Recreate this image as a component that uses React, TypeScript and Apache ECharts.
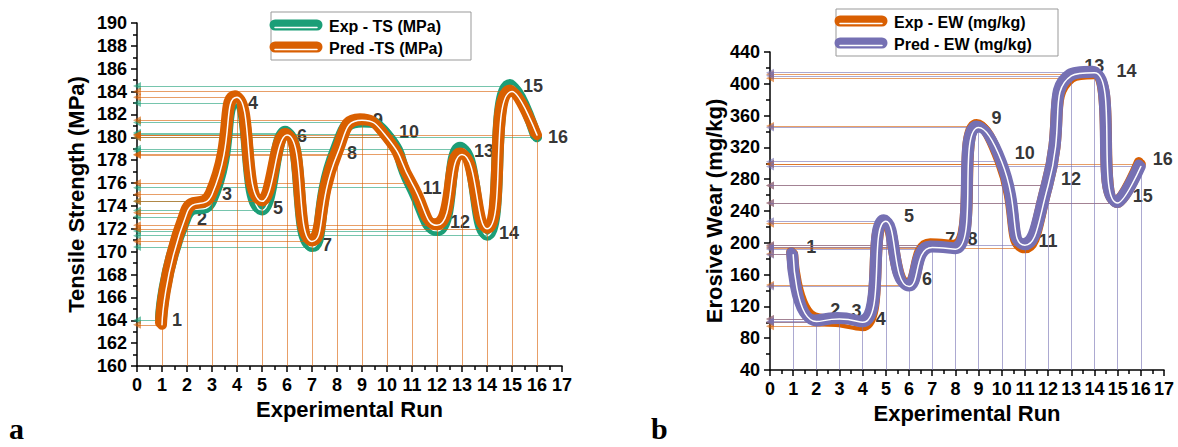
import React, { useEffect, useRef } from "react";
import * as echarts from "echarts";

// ---- data ----
const RUNS = [1, 2, 3, 4, 5, 6, 7, 8, 9, 10, 11, 12, 13, 14, 15, 16];
const EXP_TS = [164.0, 173.05, 174.4, 183.0, 173.6, 180.4, 170.4, 178.8, 181.3, 180.3, 175.6, 171.8, 179.0, 171.4, 184.5, 180.0];
const PRED_TS = [163.6, 173.4, 175.0, 183.5, 174.4, 180.2, 170.9, 178.45, 181.5, 180.0, 176.0, 172.3, 178.5, 172.0, 184.0, 180.2];
const EXP_EW = [186, 104, 100, 95, 224, 147, 197, 195, 347, 299, 193, 272, 407, 412, 250, 299];
const PRED_EW = [185, 101, 104, 100, 227, 145, 194, 192, 345, 302, 197, 272, 410, 414, 250, 296];
const RUN_LABELS = RUNS.map((r) => String(r));

const TS_AXIS = { min: 160, max: 190, step: 2 };
const EW_AXIS = { min: 40, max: 440, step: 40 };
const RUN_AXIS = { min: 0, max: 17, step: 1 };

const LEGEND_TS = ["Exp - TS (MPa)", "Pred -TS (MPa)"];
const LEGEND_EW = ["Exp - EW (mg/kg)", "Pred - EW (mg/kg)"];

// ---- styling ----
const TS_LABEL_OFFSETS = [[15, 0], [15, 2], [15, -7], [16, 0], [16, -3], [15, 3], [15, -2], [15, 2], [16, -2], [22, -2], [20, 0], [23, -9], [22, 2], [22, -3], [21, 0], [21, 0]];
const EW_LABEL_OFFSETS = [[18, -7], [19, -9], [17, -11], [18, -7], [23, -8], [18, -6], [18, -6], [17, -8], [18, -8], [23, -11], [23, -7], [23, -7], [23, -12], [32, -3], [25, -7], [22, -5]];

const GREEN = "#1b9e77";
const ORANGE = "#d95f02";
const PURPLE = "#7570b3";
const FONT = 'Arial, "Liberation Sans", Helvetica, sans-serif';
const SMOOTH = 0.6;

const pairs = (vals: number[]) => RUNS.map((r, i) => [r, vals[i]]);

function xAxis(gridIndex: number, nameGap: number) {
  return {
    type: "value",
    gridIndex,
    min: RUN_AXIS.min,
    max: RUN_AXIS.max,
    interval: RUN_AXIS.step,
    name: "Experimental Run",
    nameLocation: "middle",
    nameGap,
    nameTextStyle: { fontSize: 22, fontWeight: "bold", color: "#000", fontFamily: FONT },
    axisLine: { show: true, onZero: false, lineStyle: { color: "#000", width: 1.5 } },
    axisTick: { show: true, length: 6, lineStyle: { color: "#000", width: 1.5 } },
    minorTick: { show: true, splitNumber: 2, length: 4, lineStyle: { color: "#000", width: 1.5 } },
    axisLabel: { fontSize: 18, fontWeight: "bold", color: "#000", margin: 10, fontFamily: FONT },
    splitLine: { show: false },
  };
}

function yAxis(gridIndex: number, ax: { min: number; max: number; step: number }, name: string, nameGap: number) {
  return {
    type: "value",
    gridIndex,
    min: ax.min,
    max: ax.max,
    interval: ax.step,
    name,
    nameLocation: "middle",
    nameGap,
    nameTextStyle: { fontSize: 22, fontWeight: "bold", color: "#000", fontFamily: FONT },
    axisLine: { show: true, onZero: false, lineStyle: { color: "#000", width: 1.5 } },
    axisTick: { show: true, length: 6, lineStyle: { color: "#000", width: 1.5 } },
    minorTick: { show: true, splitNumber: 2, length: 4, lineStyle: { color: "#000", width: 1.5 } },
    axisLabel: { fontSize: 18, fontWeight: "bold", color: "#000", margin: 10, fontFamily: FONT },
    splitLine: { show: false },
  };
}

function guideSeries(idx: number, vals: number[], color: string, withVertical: boolean, yMin: number, z: number) {
  const h = RUNS.map((r, i) => [
    { coord: [RUN_AXIS.min, vals[i]], symbol: "triangle" },
    { coord: [r, vals[i]], symbol: "none" },
  ]);
  const v = withVertical
    ? RUNS.map((r, i) => [
        { coord: [r, vals[i]], symbol: "none" },
        { coord: [r, yMin], symbol: "none" },
      ])
    : [];
  return {
    type: "scatter",
    xAxisIndex: idx,
    yAxisIndex: idx,
    data: pairs(vals),
    symbolSize: 0,
    silent: true,
    z,
    markLine: {
      silent: true,
      animation: false,
      symbol: ["triangle", "none"],
      symbolSize: 8,
      label: { show: false },
      lineStyle: { color, width: 1, type: "solid", opacity: 0.6 },
      itemStyle: { color },
      data: [...h, ...v],
    },
  };
}

function labelSeries(idx: number, vals: number[], offsets: number[][], z: number) {
  return {
    type: "scatter",
    xAxisIndex: idx,
    yAxisIndex: idx,
    silent: true,
    z,
    symbolSize: 1,
    itemStyle: { color: "rgba(0,0,0,0)" },
    data: RUNS.map((r, i) => ({
      value: [r, vals[i]],
      label: {
        show: true,
        position: "inside",
        offset: offsets[i],
        formatter: RUN_LABELS[i],
        fontSize: 18,
        fontWeight: "bold",
        color: "#000",
        fontFamily: FONT,
      },
    })),
  };
}

function bandSeries(idx: number, vals: number[], color: string, z: number) {
  return [
    {
      type: "line",
      xAxisIndex: idx,
      yAxisIndex: idx,
      data: pairs(vals),
      smooth: SMOOTH,
      symbol: "none",
      silent: true,
      z,
      lineStyle: {
        color,
        width: 10,
        cap: "round",
        join: "round",
        shadowColor: color,
        shadowBlur: 0,
        shadowOffsetX: -2,
        shadowOffsetY: -2,
      },
    },
    {
      type: "line",
      xAxisIndex: idx,
      yAxisIndex: idx,
      data: pairs(vals),
      smooth: SMOOTH,
      symbol: "none",
      silent: true,
      z: z + 1,
      lineStyle: { color: "#fff", width: 1.5, cap: "round", join: "round" },
    },
  ];
}

function legendGraphic(x: number, y: number, w: number, h: number, rows: number[], items: string[], colors: string[]) {
  const children: any[] = [
    { type: "rect", shape: { x, y, width: w, height: h }, style: { fill: "#fff", stroke: "#999", lineWidth: 1 } },
  ];
  items.forEach((t, i) => {
    const cy = rows[i];
    children.push({
      type: "line",
      shape: { x1: x + 4, y1: cy - 1, x2: x + 46, y2: cy - 1 },
      style: { stroke: colors[i], lineWidth: 11, lineCap: "round" },
    });
    children.push({
      type: "line",
      shape: { x1: x + 4, y1: cy + 1.5, x2: x + 46, y2: cy + 1.5 },
      style: { stroke: "#fff", lineWidth: 1.5, lineCap: "round" },
    });
    children.push({
      type: "text",
      x: x + 58,
      y: cy,
      style: { text: t, fill: "#000", font: `bold 16px ${FONT}`, textVerticalAlign: "middle", verticalAlign: "middle" },
    });
  });
  return { type: "group", children };
}

export default function App() {
  const ref = useRef<HTMLDivElement>(null);
  useEffect(() => {
    document.body.style.margin = "0";
    const chart = echarts.init(ref.current!, null, { renderer: "svg" });
    chart.setOption({
      animation: false,
      backgroundColor: "#fff",
      grid: [
        { left: 137, top: 23, width: 425, height: 343 },
        { left: 770, top: 52, width: 394, height: 318 },
      ],
      xAxis: [xAxis(0, 31), xAxis(1, 28)],
      yAxis: [
        yAxis(0, TS_AXIS, "Tensile Strength (MPa)", 50),
        yAxis(1, EW_AXIS, "Erosive Wear (mg/kg)", 45),
      ],
      series: [
        guideSeries(0, EXP_TS, GREEN, false, TS_AXIS.min, 1),
        guideSeries(0, PRED_TS, ORANGE, true, TS_AXIS.min, 1),
        labelSeries(0, EXP_TS, TS_LABEL_OFFSETS, 2),
        ...bandSeries(0, EXP_TS, GREEN, 3),
        ...bandSeries(0, PRED_TS, ORANGE, 5),
        guideSeries(1, EXP_EW, ORANGE, false, EW_AXIS.min, 1),
        guideSeries(1, PRED_EW, PURPLE, true, EW_AXIS.min, 1),
        labelSeries(1, EXP_EW, EW_LABEL_OFFSETS, 2),
        ...bandSeries(1, EXP_EW, ORANGE, 3),
        ...bandSeries(1, PRED_EW, PURPLE, 5),
      ],
      graphic: [
        legendGraphic(271, 12, 200, 48, [26, 48], LEGEND_TS, [GREEN, ORANGE]),
        legendGraphic(836, 9, 222, 47, [22, 44], LEGEND_EW, [ORANGE, PURPLE]),
        {
          type: "text",
          x: 9,
          y: 443,
          style: { text: "a", fill: "#000", font: 'bold 30px "Liberation Serif", "Times New Roman", serif', textVerticalAlign: "bottom", verticalAlign: "bottom" },
        },
        {
          type: "text",
          x: 651,
          y: 443,
          style: { text: "b", fill: "#000", font: 'bold 30px "Liberation Serif", "Times New Roman", serif', textVerticalAlign: "bottom", verticalAlign: "bottom" },
        },
      ],
    });
    return () => chart.dispose();
  }, []);
  return <div ref={ref} style={{ width: 1178, height: 447 }} />;
}
